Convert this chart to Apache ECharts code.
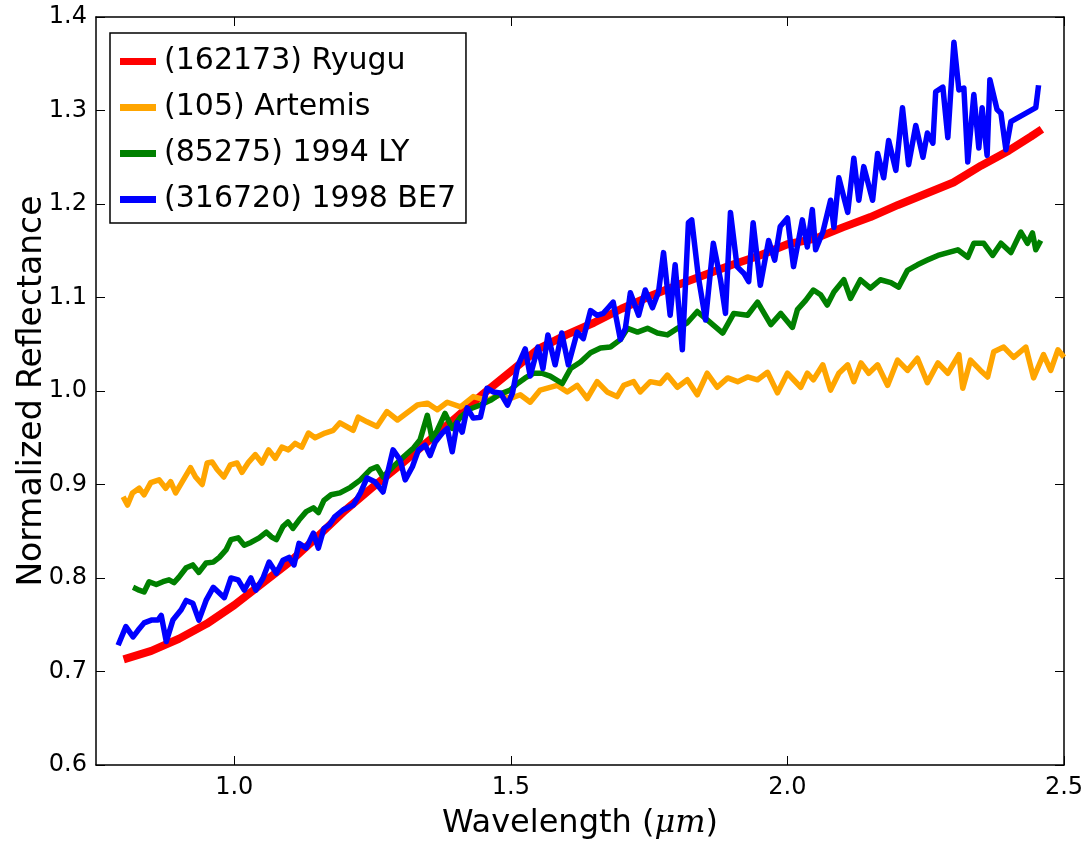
<!DOCTYPE html>
<html>
<head>
<meta charset="utf-8">
<script src="https://cdn.jsdelivr.net/npm/echarts@6/dist/echarts.min.js"></script>
<style>
html,body{margin:0;padding:0;background:#fff;}
#chart{width:1086px;height:841px;}
</style>
</head>
<body>
<div id="chart"></div>
<script>
// ---- Data ----
const seriesNames = ['(162173) Ryugu', '(105) Artemis', '(85275) 1994 LY', '(316720) 1998 BE7'];
const seriesColors = ['#ff0000', '#ffa500', '#008000', '#0000ff'];

const xTickValues = [1.0, 1.5, 2.0, 2.5];

const ryuguWl = [0.80,0.85,0.90,0.95,1.00,1.05,1.10,1.15,1.20,1.25,1.30,1.35,1.40,1.45,1.50,1.55,1.60,1.65,1.70,1.75,1.80,1.85,1.90,1.95,2.00,2.05,2.10,2.15,2.20,2.25,2.30,2.35,2.40,2.44,2.46];
const ryuguRef = [0.713,0.722,0.735,0.751,0.771,0.794,0.817,0.844,0.872,0.897,0.921,0.946,0.971,0.997,1.021,1.045,1.060,1.073,1.088,1.101,1.113,1.124,1.135,1.145,1.157,1.163,1.175,1.186,1.199,1.211,1.223,1.241,1.257,1.272,1.280];

const artemisWl = [0.799,0.807,0.816,0.828,0.837,0.849,0.864,0.876,0.885,0.894,0.906,0.921,0.930,0.942,0.951,0.960,0.969,0.981,0.993,1.005,1.014,1.026,1.038,1.050,1.062,1.074,1.086,1.098,1.110,1.122,1.134,1.146,1.164,1.179,1.191,1.215,1.224,1.240,1.258,1.276,1.295,1.331,1.349,1.367,1.385,1.409,1.432,1.457,1.481,1.499,1.517,1.535,1.553,1.584,1.602,1.620,1.638,1.656,1.674,1.692,1.704,1.722,1.734,1.752,1.770,1.783,1.801,1.819,1.837,1.855,1.873,1.892,1.910,1.928,1.946,1.964,1.982,2.000,2.024,2.036,2.047,2.064,2.078,2.093,2.109,2.120,2.133,2.147,2.163,2.181,2.199,2.217,2.235,2.253,2.272,2.290,2.310,2.317,2.331,2.349,2.362,2.373,2.391,2.409,2.431,2.445,2.463,2.476,2.489,2.500];
const artemisRef = [0.887,0.878,0.891,0.896,0.889,0.902,0.905,0.896,0.903,0.891,0.903,0.918,0.908,0.900,0.923,0.924,0.916,0.908,0.921,0.923,0.913,0.924,0.932,0.923,0.937,0.928,0.940,0.937,0.944,0.940,0.955,0.950,0.955,0.958,0.966,0.958,0.972,0.967,0.962,0.978,0.969,0.985,0.987,0.980,0.988,0.983,0.994,0.990,0.996,0.992,0.996,0.988,1.001,1.006,0.999,1.006,0.992,1.010,0.999,0.994,1.006,1.010,0.999,1.010,1.008,1.017,1.004,1.012,0.996,1.019,1.004,1.014,1.010,1.015,1.012,1.020,0.998,1.019,1.004,1.019,1.012,1.028,1.001,1.019,1.028,1.010,1.030,1.019,1.028,1.006,1.033,1.022,1.035,1.009,1.030,1.019,1.039,1.003,1.033,1.022,1.015,1.042,1.047,1.036,1.047,1.014,1.039,1.022,1.044,1.036];

const lyWl = [0.817,0.828,0.837,0.846,0.859,0.871,0.882,0.891,0.900,0.913,0.925,0.936,0.949,0.962,0.973,0.985,0.994,1.007,1.018,1.030,1.045,1.058,1.067,1.076,1.088,1.097,1.106,1.117,1.130,1.143,1.152,1.162,1.175,1.191,1.210,1.228,1.246,1.258,1.269,1.287,1.305,1.324,1.336,1.349,1.358,1.367,1.381,1.394,1.409,1.427,1.445,1.463,1.481,1.499,1.512,1.526,1.541,1.556,1.571,1.593,1.608,1.626,1.644,1.662,1.680,1.698,1.711,1.729,1.747,1.765,1.783,1.801,1.819,1.837,1.855,1.883,1.903,1.928,1.946,1.970,1.988,2.009,2.018,2.033,2.047,2.060,2.072,2.084,2.102,2.114,2.132,2.150,2.168,2.187,2.201,2.217,2.235,2.253,2.272,2.290,2.308,2.326,2.337,2.355,2.371,2.386,2.404,2.422,2.434,2.443,2.449,2.458];
const lyRef = [0.790,0.787,0.785,0.796,0.793,0.796,0.798,0.795,0.801,0.811,0.814,0.806,0.816,0.817,0.822,0.830,0.841,0.843,0.835,0.838,0.843,0.849,0.844,0.841,0.855,0.860,0.853,0.862,0.871,0.875,0.870,0.883,0.889,0.891,0.897,0.905,0.916,0.919,0.908,0.919,0.929,0.939,0.948,0.974,0.948,0.958,0.976,0.960,0.972,0.981,0.985,0.990,0.997,1.001,1.008,1.014,1.019,1.019,1.016,1.008,1.024,1.031,1.041,1.046,1.047,1.055,1.067,1.063,1.067,1.062,1.060,1.067,1.073,1.085,1.076,1.062,1.083,1.081,1.095,1.071,1.083,1.068,1.087,1.097,1.108,1.103,1.092,1.106,1.119,1.099,1.119,1.110,1.119,1.116,1.111,1.129,1.135,1.140,1.145,1.148,1.151,1.143,1.158,1.158,1.145,1.158,1.148,1.170,1.158,1.169,1.151,1.161];

const be7Wl = [0.790,0.804,0.817,0.826,0.837,0.850,0.862,0.868,0.877,0.889,0.904,0.913,0.925,0.936,0.949,0.962,0.973,0.982,0.994,1.007,1.018,1.030,1.039,1.052,1.063,1.076,1.088,1.099,1.108,1.117,1.130,1.143,1.152,1.162,1.172,1.181,1.197,1.215,1.228,1.240,1.254,1.269,1.287,1.300,1.309,1.322,1.333,1.345,1.354,1.363,1.376,1.385,1.394,1.403,1.412,1.421,1.432,1.445,1.457,1.468,1.481,1.494,1.503,1.512,1.526,1.535,1.549,1.558,1.567,1.580,1.592,1.604,1.620,1.631,1.644,1.656,1.667,1.676,1.685,1.698,1.707,1.716,1.731,1.743,1.756,1.767,1.776,1.788,1.797,1.810,1.821,1.827,1.839,1.852,1.866,1.879,1.888,1.897,1.909,1.921,1.930,1.938,1.951,1.966,1.977,1.987,2.000,2.011,2.027,2.036,2.045,2.051,2.064,2.078,2.084,2.093,2.109,2.120,2.129,2.138,2.154,2.163,2.174,2.183,2.196,2.208,2.219,2.232,2.245,2.253,2.263,2.268,2.281,2.290,2.301,2.310,2.319,2.326,2.337,2.346,2.352,2.361,2.366,2.379,2.386,2.395,2.404,2.449,2.454];
const be7Ref = [0.728,0.748,0.737,0.744,0.752,0.755,0.755,0.760,0.732,0.755,0.766,0.776,0.773,0.755,0.776,0.790,0.784,0.779,0.800,0.798,0.787,0.800,0.787,0.800,0.817,0.805,0.819,0.822,0.814,0.837,0.832,0.848,0.832,0.853,0.857,0.865,0.873,0.878,0.891,0.907,0.903,0.892,0.937,0.926,0.905,0.919,0.937,0.942,0.931,0.945,0.955,0.960,0.935,0.966,0.956,0.982,0.971,0.972,1.003,0.999,0.998,0.985,0.998,1.026,1.045,1.016,1.047,1.024,1.060,1.028,1.062,1.028,1.063,1.056,1.086,1.081,1.083,1.089,1.095,1.055,1.067,1.105,1.081,1.108,1.089,1.106,1.148,1.081,1.135,1.044,1.180,1.183,1.122,1.076,1.158,1.119,1.083,1.191,1.133,1.126,1.117,1.180,1.113,1.161,1.140,1.176,1.185,1.133,1.183,1.154,1.194,1.151,1.170,1.204,1.175,1.228,1.191,1.249,1.204,1.240,1.204,1.254,1.228,1.268,1.236,1.303,1.242,1.284,1.250,1.276,1.265,1.320,1.325,1.271,1.373,1.322,1.324,1.245,1.317,1.260,1.303,1.252,1.333,1.301,1.297,1.258,1.288,1.303,1.327];

// ---- Chart ----
const FONT = 'DejaVu Sans';
const zip = (xs, ys) => xs.map((x, i) => [x, ys[i]]);
const allData = [zip(ryuguWl, ryuguRef), zip(artemisWl, artemisRef), zip(lyWl, lyRef), zip(be7Wl, be7Ref)];
const widths = [8, 5.5, 5.5, 5.5];

const chart = echarts.init(document.getElementById('chart'), null, {renderer: 'canvas'});

const axisLine = {show: true, onZero: false, lineStyle: {color: '#000', width: 1.5}};
const tickStyle = {show: true, inside: true, length: 9, lineStyle: {color: '#000', width: 1}};

chart.setOption({
  animation: false,
  backgroundColor: '#fff',
  grid: {left: 96, top: 17, right: 22, bottom: 76, containLabel: false, outerBoundsMode: 'none'},
  legend: {
    show: true,
    left: 110, top: 33,
    orient: 'vertical',
    data: seriesNames,
    icon: 'rect',
    itemWidth: 36, itemHeight: 7,
    itemGap: 15,
    padding: [13, 10, 8, 10],
    borderColor: '#000', borderWidth: 1.5, borderRadius: 0,
    backgroundColor: '#fff',
    textStyle: {fontFamily: FONT, fontSize: 30, color: '#000', lineHeight: 31, padding: [0, 0, 0, 3]}
  },
  xAxis: [{
    type: 'value', min: 0.75, max: 2.5, position: 'bottom',
    name: '{a|Wavelength (}{b|μm}{a|)}',
    nameLocation: 'middle', nameGap: 43, nameMoveOverlap: false,
    nameTextStyle: {rich: {
      a: {fontFamily: FONT, fontSize: 32, color: '#000'},
      b: {fontFamily: 'DejaVu Serif', fontStyle: 'italic', fontSize: 32, color: '#000'}
    }},
    axisLine: axisLine,
    axisTick: Object.assign({customValues: xTickValues}, tickStyle),
    axisLabel: {customValues: xTickValues, formatter: v => v.toFixed(1), fontFamily: FONT, fontSize: 24, color: '#000', margin: 11},
    splitLine: {show: false}
  }, {
    type: 'value', min: 0.75, max: 2.5, position: 'top',
    axisLine: axisLine,
    axisTick: Object.assign({customValues: xTickValues}, tickStyle),
    axisLabel: {show: false},
    splitLine: {show: false}
  }],
  yAxis: [{
    type: 'value', min: 0.6, max: 1.4, interval: 0.1, position: 'left',
    name: 'Normalized Reflectance',
    nameLocation: 'middle', nameGap: 47, nameRotate: 90, nameMoveOverlap: false,
    nameTextStyle: {fontFamily: FONT, fontSize: 33, color: '#000'},
    axisLine: axisLine,
    axisTick: tickStyle,
    axisLabel: {formatter: v => v.toFixed(1), fontFamily: FONT, fontSize: 24, color: '#000', margin: 9},
    splitLine: {show: false}
  }, {
    type: 'value', min: 0.6, max: 1.4, interval: 0.1, position: 'right',
    axisLine: axisLine,
    axisTick: tickStyle,
    axisLabel: {show: false},
    splitLine: {show: false}
  }],
  series: seriesNames.map((name, i) => ({
    name: name,
    type: 'line',
    xAxisIndex: 0, yAxisIndex: 0,
    data: allData[i],
    showSymbol: false,
    symbol: 'none',
    clip: true,
    color: seriesColors[i],
    lineStyle: {color: seriesColors[i], width: widths[i], join: 'round', cap: 'butt'},
    emphasis: {disabled: true},
    z: 2 + i
  }))
});
</script>
</body>
</html>
